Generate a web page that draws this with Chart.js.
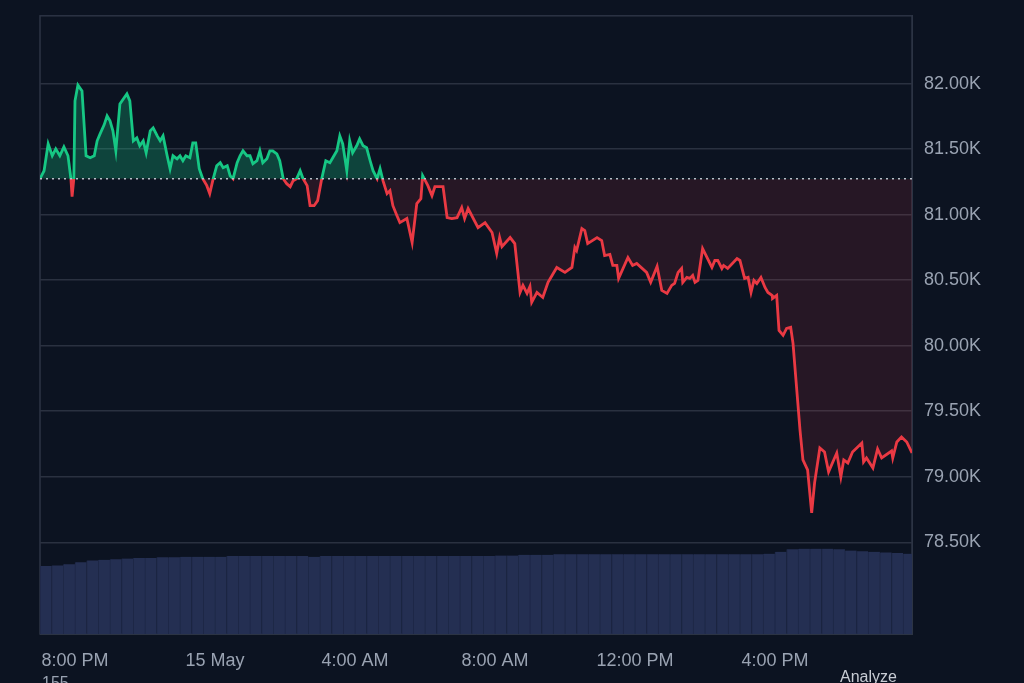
<!DOCTYPE html>
<html><head><meta charset="utf-8">
<script src="https://cdn.jsdelivr.net/npm/chart.js@4/dist/chart.umd.min.js"></script>
<style>
html,body{margin:0;padding:0;background:#0c1321;overflow:hidden}
#wrap{position:relative;width:1024px;height:683px;overflow:hidden}
#c{position:absolute;left:0;top:-7px}
.extra{position:absolute;color:#9aa3b2;font:16px "Liberation Sans",Arial,sans-serif}
</style></head><body>
<div id="wrap"><canvas id="c" width="1024" height="690"></canvas>
<div class="extra" style="left:42px;top:674px">155</div>
<div class="extra" style="left:840px;top:668px;color:#c8ccd4">Analyze</div>
</div>
<script>
const baseline = 81274;
const priceMinutes = [0,7,14,21,27,34,41,48,53,55,58,60,65,72,79,86,93,98,103,110,115,120,125,130,137,144,149,154,160,166,171,177,182,189,194,201,206,211,218,223,228,235,240,245,250,257,262,267,273,279,286,291,297,303,309,314,321,326,331,338,343,348,355,360,365,372,377,382,389,394,399,406,411,417,423,429,434,440,446,451,458,463,470,476,483,490,497,502,509,514,519,526,531,536,543,548,554,560,566,571,578,583,588,595,600,605,612,617,629,638,646,653,656,665,672,677,691,698,706,715,723,728,734,751,763,775,783,788,792,806,814,823,828,835,840,843,852,862,871,886,900,912,917,920,929,934,939,955,963,968,977,982,989,992,1008,1016,1023,1040,1047,1058,1066,1075,1083,1088,1094,1100,1102,1109,1114,1119,1123,1128,1136,1152,1157,1162,1169,1172,1179,1195,1200,1208,1214,1219,1224,1229,1236,1243,1248,1255,1256,1263,1267,1274,1280,1287,1291,1303,1308,1316,1323,1328,1337,1345,1352,1366,1373,1378,1385,1393,1409,1412,1417,1428,1436,1443,1460,1462,1469,1477,1486,1495];
const prices = [81274,81335,81540,81449,81502,81449,81517,81449,81274,81137,81274,81868,81989,81944,81449,81434,81449,81563,81616,81685,81753,81715,81639,81487,81845,81890,81921,81868,81563,81586,81525,81563,81472,81639,81662,81601,81563,81601,81449,81350,81449,81426,81449,81411,81449,81434,81548,81548,81350,81274,81221,81160,81274,81373,81396,81358,81373,81297,81274,81396,81449,81487,81449,81449,81388,81411,81487,81396,81426,81487,81487,81464,81411,81274,81236,81213,81259,81274,81335,81274,81221,81068,81068,81107,81274,81411,81396,81434,81487,81601,81540,81335,81563,81472,81525,81578,81525,81510,81411,81335,81274,81350,81259,81160,81183,81068,80992,80939,80970,80787,81084,81122,81297,81221,81145,81213,81213,80977,80970,80977,81053,80970,81046,80901,80939,80863,80703,80825,80756,80825,80779,80406,80460,80399,80452,80330,80406,80368,80483,80597,80559,80597,80749,80726,80893,80878,80779,80825,80802,80688,80696,80612,80612,80513,80673,80612,80627,80559,80483,80604,80422,80399,80460,80475,80559,80589,80483,80521,80513,80536,80483,80498,80741,80597,80650,80650,80589,80612,80589,80665,80650,80513,80521,80406,80498,80475,80521,80444,80406,80384,80361,80384,80117,80079,80132,80140,80018,79356,79128,79052,78725,78953,79219,79189,79037,79181,78999,79128,79105,79189,79257,79113,79143,79067,79212,79143,79196,79143,79265,79303,79265,79181];
const volumeStepMinutes = 20;
const volumes = [110,111,113,116,119,120,121,122,123,123,124,124,125,125,125,125,126,126,126,126,126,126,126,125,126,126,126,126,126,126,126,126,126,126,126,126,126,126,126,127,127,128,128,128,129,129,129,129,129,129,129,129,129,129,129,129,129,129,129,129,129,129,130,133,137,138,138,138,137,135,134,133,132,131,130];
const xTickMinutes = [60,300,540,780,1020,1260];
const xTickLabels = ['8:00 PM','15 May','4:00 AM','8:00 AM','12:00 PM','4:00 PM'];
const yTicks = [78500,79000,79500,80000,80500,81000,81500,82000];

const priceData = priceMinutes.map((m,i)=>({x:m,y:prices[i]}));
const volData = volumes.map((v,i)=>({x:i*volumeStepMinutes+10,y:v}));
const GREEN='#16c784', RED='#ea3943';
function splitGradient(ctx){
  const ch=ctx.chart, a=ch.chartArea; if(!a) return GREEN;
  const py=ch.scales.y.getPixelForValue(baseline);
  const f=Math.min(1,Math.max(0,(py-a.top)/(a.bottom-a.top)));
  const g=ch.ctx.createLinearGradient(0,a.top,0,a.bottom);
  g.addColorStop(0,GREEN);g.addColorStop(f,GREEN);g.addColorStop(f,RED);g.addColorStop(1,RED);
  return g;
}
function belowFill(ch){
  const a=ch.chartArea; if(!a) return 'rgba(234,57,67,0.1)';
  const py=ch.scales.y.getPixelForValue(baseline);
  const g=ch.ctx.createLinearGradient(0,py,0,ch.scales.y.getPixelForValue(78900));
  g.addColorStop(0,'rgba(234,57,67,0.05)');g.addColorStop(1,'rgba(234,57,67,0.24)');
  return g;
}
const chart=new Chart(document.getElementById('c'),{
  data:{datasets:[
    {type:'line',data:priceData,yAxisID:'y',borderWidth:2.8,pointRadius:0,tension:0,
     borderColor:splitGradient,
     fill:{target:{value:baseline},above:'rgba(22,199,132,0.28)',below:'rgba(234,57,67,0.12)'},order:1},
    {type:'line',data:[{x:0,y:baseline},{x:1495,y:baseline}],yAxisID:'y',borderColor:'#b8bec8',borderWidth:1.5,borderDash:[2,4],pointRadius:0,fill:false,order:0},
    {type:'bar',data:volData,yAxisID:'v',backgroundColor:'#242f52',borderColor:'#1e2847',borderWidth:{left:1,right:0,top:0,bottom:0},barPercentage:1,categoryPercentage:1,order:2}
  ]},
  options:{responsive:false,animation:false,
    layout:{padding:{left:40,top:0,right:0,bottom:0}},
    plugins:{legend:{display:false},tooltip:{enabled:false}},
    scales:{
      x:{type:'linear',min:0,max:1495,offset:false,
        grid:{display:false,drawTicks:false},border:{display:true,color:'#2c3444'},
        afterBuildTicks:s=>{s.ticks=xTickMinutes.map(v=>({value:v}));},
        afterFit:s=>{s.height=49;},
        ticks:{padding:16,maxRotation:0,color:'#9aa3b2',font:{family:'Liberation Sans',size:18},
          callback:v=>{const i=xTickMinutes.indexOf(v);return i>=0?xTickLabels[i]:'';}}},
      y:{position:'right',min:77800,max:82517,
        grid:{color:'#2a3140',lineWidth:1.5,drawTicks:false},border:{display:true,color:'#2c3444'},
        afterBuildTicks:s=>{s.ticks=yTicks.map(v=>({value:v}));},
        afterFit:s=>{s.width=112;},
        ticks:{padding:12,color:'#9aa3b2',font:{family:'Liberation Sans',size:18},
          callback:v=>(v/1000).toFixed(2)+'K'}},
      v:{display:false,min:0,max:1000}
    }
  },
  plugins:[{id:'frame',beforeDraw(ch){const c=ch.ctx,a=ch.chartArea;c.save();c.fillStyle='#0c1321';c.fillRect(0,0,ch.width,ch.height);
    c.strokeStyle='#2c3444';c.lineWidth=1.5;c.strokeRect(a.left,a.top,a.right-a.left,a.bottom-a.top);c.restore();
    ch.data.datasets[0].fill.below=belowFill(ch);}}]
});
</script></body></html>
